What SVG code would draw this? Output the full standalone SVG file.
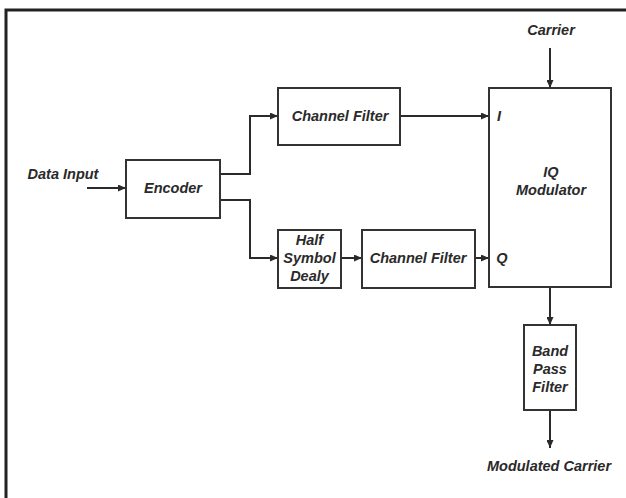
<svg xmlns="http://www.w3.org/2000/svg" width="626" height="498" viewBox="0 0 626 498">
<defs>
<marker id="ah" markerWidth="8" markerHeight="7" refX="8" refY="3.5" orient="auto" markerUnits="userSpaceOnUse">
<path d="M0,0 L8,3.5 L0,7 Z" fill="#2a2a2a"/>
</marker>
<style>
.box{fill:#fff;stroke:#333;stroke-width:2}
.t{font-family:"Liberation Sans",Arial,sans-serif;font-weight:bold;font-style:italic;font-size:14.5px;fill:#2a2a2a;text-anchor:middle;dominant-baseline:central}
.c{fill:none;stroke:#2a2a2a;stroke-width:2}
.a{fill:none;stroke:#2a2a2a;stroke-width:2;marker-end:url(#ah)}
</style>
</defs>
<rect width="626" height="498" fill="#fff"/>
<rect x="6" y="10" width="640" height="510" fill="none" stroke="#222" stroke-width="3"/>

<g id="connectors">
<path class="a" d="M87,188 H126"/>
<path class="a" d="M220,174 H250 V116 H278"/>
<path class="a" d="M220,200 H250 V258 H278"/>
<path class="a" d="M400,116 H489"/>
<path class="a" d="M341,258 H362"/>
<path class="a" d="M475,258 H489"/>
<path class="a" d="M550,48 V88"/>
<path class="a" d="M550,287 V325"/>
<path class="a" d="M550,410 V448"/>
</g>

<g id="data-input"><text class="t" x="63" y="174">Data Input</text></g>
<g id="encoder"><rect class="box" x="126" y="160" width="94" height="58"/><text class="t" x="173" y="188">Encoder</text></g>
<g id="channel-filter-1"><rect class="box" x="278" y="88" width="122" height="57"/><text class="t" x="340" y="116">Channel Filter</text></g>
<g id="half-symbol-delay"><rect class="box" x="278" y="230" width="63" height="58"/><text class="t" x="309.5" y="240">Half</text><text class="t" x="309.5" y="258">Symbol</text><text class="t" x="309.5" y="276">Dealy</text></g>
<g id="channel-filter-2"><rect class="box" x="362" y="230" width="113" height="58"/><text class="t" x="418" y="258">Channel Filter</text></g>
<g id="iq-modulator"><rect class="box" x="489" y="88" width="122" height="199"/><text class="t" x="551" y="172">IQ</text><text class="t" x="551" y="190">Modulator</text><text class="t" x="499" y="116">I</text><text class="t" x="502" y="258">Q</text></g>
<g id="carrier"><text class="t" x="551" y="30">Carrier</text></g>
<g id="band-pass-filter"><rect class="box" x="524" y="325" width="52" height="85"/><text class="t" x="550" y="351">Band</text><text class="t" x="550" y="369">Pass</text><text class="t" x="550" y="387">Filter</text></g>
<g id="modulated-carrier"><text class="t" x="549" y="466">Modulated Carrier</text></g>
</svg>
